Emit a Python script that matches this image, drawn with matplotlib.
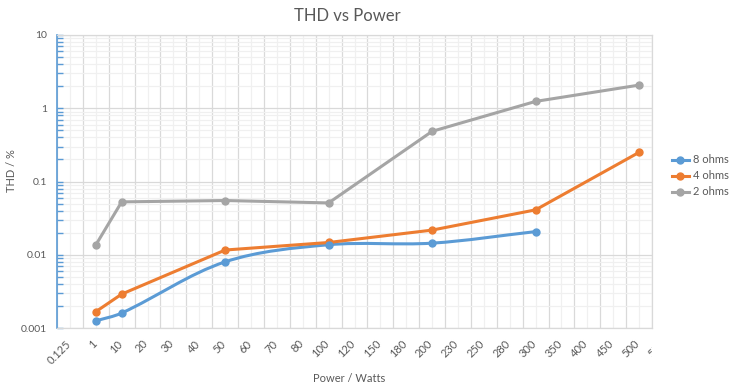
import numpy as np
import matplotlib.pyplot as plt
from matplotlib.path import Path
from matplotlib.patches import PathPatch
from matplotlib.lines import Line2D
from matplotlib.transforms import Bbox, TransformedBbox, blended_transform_factory, ScaledTranslation
from matplotlib.ticker import LogLocator, NullFormatter

plt.rcParams['font.family'] = ['Lato', 'DejaVu Sans']

# category axis of the Excel chart
categories = ['0.125', '1', '10', '20', '30', '40', '50', '60', '70', '80', '100',
              '120', '150', '180', '200', '230', '250', '280', '300', '350', '400',
              '450', '500', '550']

power_8 = ['1', '10', '50', '100', '200', '300']
thd_8 = [0.00125, 0.0016, 0.008, 0.0137, 0.0144, 0.0207]

power_4 = ['1', '10', '50', '100', '200', '300', '500']
thd_4 = [0.00167, 0.0029, 0.0116, 0.0147, 0.0217, 0.041, 0.25]

power_2 = ['1', '10', '50', '100', '200', '300', '500']
thd_2 = [0.0136, 0.0527, 0.055, 0.051, 0.484, 1.24, 2.07]

blue = '#5B9BD5'
orange = '#ED7D31'
grey = '#A5A5A5'
txt = '#595959'

W, H = 737, 388
L, R, T, B = 57, 652, 35, 328
SX = (R - L) / 23.0      # px per category
SY = (B - T) / 4.0       # px per decade


def smooth_path(xs, ys, k=1 / 3):
    # smoothed line: bezier segments built in pixel space,
    # tangent length scaled by the segment length
    pts = np.column_stack([np.asarray(xs, float) * SX, np.log10(ys) * SY])
    n = len(pts)
    verts = [pts[0]]
    codes = [Path.MOVETO]
    for i in range(n - 1):
        p0 = pts[max(i - 1, 0)]
        p1 = pts[i]
        p2 = pts[i + 1]
        p3 = pts[min(i + 2, n - 1)]
        seg = np.hypot(*(p2 - p1))
        d1 = (p2 - p0) / np.hypot(*(p2 - p0))
        d2 = (p3 - p1) / np.hypot(*(p3 - p1))
        verts += [p1 + d1 * seg * k, p2 - d2 * seg * k, p2]
        codes += [Path.CURVE4] * 3
    verts = np.array(verts)
    verts[:, 0] /= SX
    verts[:, 1] = 10 ** (verts[:, 1] / SY)
    return Path(verts, codes)


fig = plt.figure(figsize=(W / 100, H / 100), dpi=100)
ax = fig.add_axes([L / W, 1 - B / H, (R - L) / W, (B - T) / H])

ax.set_yscale('log')
ax.set_ylim(0.001, 10)
ax.set_xlim(-0.5, 22.5)

# gridlines
ax.set_xticks(range(len(categories) - 1))
ax.set_xticks(np.arange(-0.5, 23, 1), minor=True)
ax.tick_params(axis='x', which='both', length=0, labelbottom=False)
ax.grid(True, axis='x', which='major', color='#F0F0F0', lw=0.9)
ax.grid(True, axis='x', which='minor', color='#D9D9D9', lw=0.9)
ax.yaxis.set_minor_locator(LogLocator(base=10, subs=np.arange(2, 10)))
ax.yaxis.set_minor_formatter(NullFormatter())
ax.grid(True, axis='y', which='major', color='#D9D9D9', lw=0.9)
ax.grid(True, axis='y', which='minor', color='#F0F0F0', lw=0.9)
ax.set_axisbelow(True)
ax.set_yticks([0.001, 0.01, 0.1, 1, 10], labels=['0.001', '0.01', '0.1', '1', '10'])
ax.tick_params(axis='y', which='both', direction='in', length=4, width=1,
               color=blue, labelcolor=txt, labelsize=7.5, pad=7)

for s in ['top', 'right', 'bottom']:
    ax.spines[s].set_color('#D9D9D9')
    ax.spines[s].set_linewidth(0.9)
ax.spines['left'].set_color(blue)
ax.spines['left'].set_linewidth(1.2)

# series
for pw, vals, col, smooth in [(power_8, thd_8, blue, True),
                              (power_4, thd_4, orange, False),
                              (power_2, thd_2, grey, False)]:
    xs = [categories.index(p) for p in pw]
    if smooth:
        ax.add_patch(PathPatch(smooth_path(xs, vals), fill=False, edgecolor=col,
                               lw=2.2, capstyle='round', joinstyle='round', zorder=3))
        ax.plot(xs, vals, 'o', color=col, ms=5, zorder=4)
    else:
        ax.plot(xs, vals, '-o', color=col, ms=5, lw=2.2, zorder=3,
                solid_joinstyle='round', solid_capstyle='round')

# rotated category labels, clipped at the plot area's right edge
trans = blended_transform_factory(ax.transData, ax.transAxes) + \
    ScaledTranslation(-5 / 100, -10 / 100, fig.dpi_scale_trans)
clip = TransformedBbox(Bbox([[0, 0], [R / W, 1]]), fig.transFigure)
for i, c in enumerate(categories):
    t = ax.text(i, 0, c, transform=trans, rotation=45, rotation_mode='anchor',
                ha='right', va='top', fontsize=8, color=txt, clip_on=True)
    t.set_clip_box(clip)

fig.text(347.5 / W, 1 - 21 / H, 'THD vs Power', ha='center', va='baseline',
         fontsize=12, color=txt)
fig.text(349 / W, 1 - 382 / H, 'Power / Watts', ha='center', va='baseline',
         fontsize=8, color=txt)
fig.text(11.5 / W, 1 - 171 / H, 'THD / %', ha='center', va='center',
         rotation=90, fontsize=8, color=txt)

handles = [Line2D([], [], color=c, lw=2.2, marker='o', ms=5) for c in (blue, orange, grey)]
fig.legend(handles, ['8 ohms', '4 ohms', '2 ohms'], loc='center left',
           bbox_to_anchor=(662 / W, 1 - 176 / H), frameon=False, fontsize=8,
           labelcolor=txt, handlelength=1.5, handletextpad=0.4, labelspacing=0.45)

fig.savefig('out.png', dpi=100)
